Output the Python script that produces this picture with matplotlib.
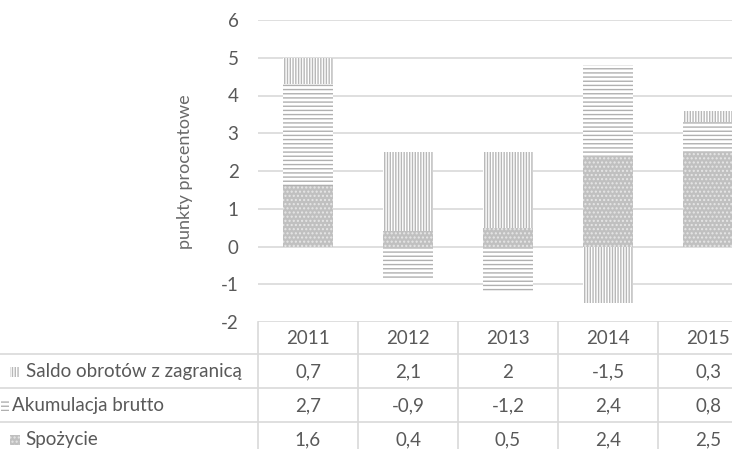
import matplotlib.pyplot as plt
import matplotlib.transforms as mtransforms
from matplotlib.lines import Line2D
from matplotlib.patches import Rectangle
import numpy as np

plt.rcParams['font.family'] = ['Lato', 'DejaVu Sans']

# Data
years = ["2011", "2012", "2013", "2014", "2015"]
saldo = [0.7, 2.1, 2.0, -1.5, 0.3]
akumulacja = [2.7, -0.9, -1.2, 2.4, 0.8]
spozycie = [1.6, 0.4, 0.5, 2.4, 2.5]
row_names = ["Saldo obrotów z zagranicą", "Akumulacja brutto", "Spożycie"]

TXT = "#595959"
GRID = "#d9d9d9"
FS = 13.5
W, H = 732, 449

fig = plt.figure(figsize=(W / 100, H / 100), dpi=100)


def fx(px):
    return px / W


def fy(py):
    return 1 - py / H


# plot area runs past the right edge of the figure (last column is cut off)
ax = fig.add_axes([fx(258), fy(322), fx(758 - 258), fy(20) - fy(322)])
ax.set_xlim(-0.5, 4.5)
ax.set_ylim(-2, 6)

# series styles: vertical stripes, horizontal stripes, dotted fill
styles = {
    "saldo": dict(facecolor="white", edgecolor="#b8b8b8", hatch="|" * 6),
    "akum": dict(facecolor="white", edgecolor="#b0b0b0", hatch="-" * 4),
    "spoz": dict(facecolor="#c0c0c0", edgecolor="#e6e6e6", hatch="." * 4),
}

x = np.arange(len(years))
series = [("spoz", spozycie), ("akum", akumulacja), ("saldo", saldo)]
pos_base = np.zeros(len(years))
neg_base = np.zeros(len(years))
for key, vals in series:
    vals = np.array(vals)
    bottoms = np.where(vals >= 0, pos_base, neg_base)
    ax.bar(x, vals, width=0.5, bottom=bottoms, linewidth=0, zorder=2,
           **styles[key])
    pos_base += np.clip(vals, 0, None)
    neg_base += np.clip(vals, None, 0)

ax.set_yticks(range(-2, 7))
ax.set_yticklabels([str(v) for v in range(-2, 7)])
ax.yaxis.grid(True, color=GRID, linewidth=1.2)
ax.set_axisbelow(True)
ax.tick_params(axis="y", length=0, labelsize=FS, labelcolor=TXT, pad=14)
ax.set_xticks([])
for s in ax.spines.values():
    s.set_visible(False)

fig.text(fx(185), fy(172), "punkty procentowe", rotation=90, ha="center",
         va="center", fontsize=13, color="#6a6a6a")

# data table under the chart
blend = mtransforms.blended_transform_factory(ax.transData, fig.transFigure)
for yy in [354, 388, 422]:
    fig.add_artist(Line2D([0, 1], [fy(yy), fy(yy)], color=GRID, linewidth=1.2))
for b in np.arange(-0.5, 4.0, 1.0):
    fig.add_artist(Line2D([b, b], [fy(322), 0], color=GRID, linewidth=1.2,
                          transform=blend))

for i, yr in enumerate(years):
    fig.text(i, fy(339), yr, transform=blend, ha="center", va="center",
             fontsize=FS, color=TXT)

row_y = [372, 406, 440]
table_rows = [saldo, akumulacja, spozycie]
for vals, yy in zip(table_rows, row_y):
    for i, v in enumerate(vals):
        s = f"{v:g}".replace(".", ",")
        fig.text(i, fy(yy), s, transform=blend, ha="center", va="center",
                 fontsize=FS, color=TXT)

# row labels with legend keys (x of key, key width, x of text)
keys = [("saldo", 10, 10, 26), ("akum", 1, 8, 12), ("spoz", 10, 10, 25)]
for (key, kx, kw, tx), name, yy in zip(keys, row_names, row_y):
    fig.add_artist(Rectangle((fx(kx), fy(yy + 5)), fx(kw), fy(0) - fy(10),
                             transform=fig.transFigure, linewidth=0,
                             **styles[key]))
    fig.text(fx(tx), fy(yy), name, ha="left", va="center", fontsize=FS,
             color=TXT)

fig.savefig("out.png", dpi=100)
